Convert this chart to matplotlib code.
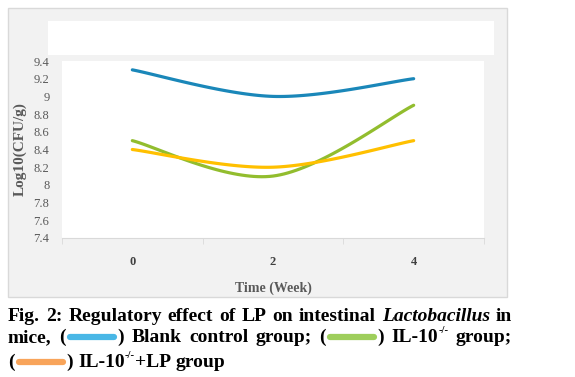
import matplotlib.pyplot as plt
import matplotlib.patches as mpatches
from matplotlib.lines import Line2D
import numpy as np

weeks = ["0", "2", "4"]
blank_control = [9.3, 9.0, 9.2]
il10_group = [8.5, 8.1, 8.9]
il10_lp_group = [8.4, 8.2, 8.5]
y_ticks = [7.4, 7.6, 7.8, 8, 8.2, 8.4, 8.6, 8.8, 9, 9.2, 9.4]

line_colors = ["#1a87b9", "#92bd2e", "#ffc000"]
swatch_colors = ["#29abe2", "#8dc63f", "#f7943d"]

W, H = 575, 377
plt.rcParams['font.family'] = ['Liberation Serif', 'DejaVu Serif']


def smooth(xs, ys, n=40):
    # Excel-like smoothed line (Catmull-Rom through the points)
    pts = np.column_stack([xs, ys]).astype(float)
    ext = np.vstack([pts[0], pts, pts[-1]])
    out = []
    t = np.linspace(0, 1, n)[:, None]
    for i in range(1, len(ext) - 2):
        p0, p1, p2, p3 = ext[i - 1], ext[i], ext[i + 1], ext[i + 2]
        c1 = p1 + (p2 - p0) / 6
        c2 = p2 - (p3 - p1) / 6
        seg = ((1 - t) ** 3) * p1 + 3 * ((1 - t) ** 2) * t * c1 + 3 * (1 - t) * t ** 2 * c2 + t ** 3 * p2
        out.append(seg)
    arr = np.vstack(out)
    return arr[:, 0], arr[:, 1]


def fx(px):
    return px / W


def fy(py):
    return 1 - py / H


fig = plt.figure(figsize=(W / 100, H / 100), dpi=100)

# chart frame
fig.patches.append(mpatches.Rectangle((fx(8), fy(297)), fx(499), 289 / H, transform=fig.transFigure,
                                      facecolor="#f2f2f2", edgecolor="#d9d9d9", lw=1, zorder=-3))
fig.patches.append(mpatches.Rectangle((fx(48), fy(55)), fx(446), 34 / H, transform=fig.transFigure,
                                      facecolor="white", edgecolor="none", zorder=-2))

ax = fig.add_axes([fx(62), fy(238), fx(422), 177 / H])
ax.set_facecolor("white")
xs = np.arange(len(weeks))
for vals, c in zip([blank_control, il10_group, il10_lp_group], line_colors):
    sx, sy = smooth(xs, vals)
    ax.plot(sx, sy, color=c, lw=2.3, solid_capstyle="round")

ax.set_xlim(-0.5, len(weeks) - 0.5)
ax.set_ylim(7.4, 9.4)
ax.set_yticks(y_ticks)
ax.set_yticklabels([f"{v:g}" for v in y_ticks], fontsize=9, color="#595959")
ax.set_xticks(xs)
ax.set_xticklabels(weeks, fontsize=9, fontweight="bold", color="#404040")
ax.set_xticks(np.arange(-0.5, len(weeks)), minor=True)
ax.tick_params(axis="x", which="major", length=0, pad=13)
ax.tick_params(axis="x", which="minor", length=4, color="#d9d9d9", direction="out")
ax.tick_params(axis="y", length=0, pad=9)
for s in ["top", "right", "left"]:
    ax.spines[s].set_visible(False)
ax.spines["bottom"].set_color("#d9d9d9")
ax.set_ylabel("Log10(CFU/g)", fontsize=11, fontweight="bold", color="#595959", labelpad=5)
fig.text(fx(273), fy(288), "Time (Week)", ha="center", va="center", fontsize=10,
         fontweight="bold", color="#595959")

# caption with justified lines and colored swatches
renderer = fig.canvas.get_renderer()
FS = 14


def measure(piece):
    kind = piece[0]
    if kind == "sw":
        return 52
    t = fig.text(0, 0, piece[1], fontsize=FS * (0.55 if kind == "sup" else 1), fontweight="bold",
                 fontstyle="italic" if kind == "it" else "normal")
    w = t.get_window_extent(renderer).width
    t.remove()
    return w


def draw_line(groups, ybase, justify, left=8, right=512):
    widths = [[measure(p) for p in g] for g in groups]
    totals = [sum(w) for w in widths]
    if justify:
        gap = (right - left - sum(totals)) / (len(groups) - 1)
    else:
        gap = 5
    x = left
    for g, ws in zip(groups, widths):
        for p, w in zip(g, ws):
            kind = p[0]
            if kind == "sw":
                fig.add_artist(Line2D([fx(x + 4), fx(x + w - 4)], [fy(ybase - 5)] * 2, transform=fig.transFigure,
                                      color=p[1], lw=4.5, solid_capstyle="round", alpha=0.85))
            elif kind == "sup":
                fig.text(fx(x), fy(ybase - 9), p[1], fontsize=FS * 0.55, fontweight="bold", va="baseline")
            else:
                fig.text(fx(x), fy(ybase), p[1], fontsize=FS, fontweight="bold", va="baseline",
                         fontstyle="italic" if kind == "it" else "normal")
            x += w
        x += gap


line1 = [[("t", w)] for w in ["Fig.", "2:", "Regulatory", "effect", "of", "LP", "on", "intestinal"]]
line1 += [[("it", "Lactobacillus")], [("t", "in")]]
line2 = [[("t", "mice,")], [("t", "("), ("sw", swatch_colors[0]), ("t", ")")],
         [("t", "Blank")], [("t", "control")], [("t", "group;")],
         [("t", "("), ("sw", swatch_colors[1]), ("t", ")")],
         [("t", "IL-10"), ("sup", "-/-")], [("t", "group;")]]
line3 = [[("t", "("), ("sw", swatch_colors[2]), ("t", ")")],
         [("t", "IL-10"), ("sup", "-/-"), ("t", "+LP")], [("t", "group")]]

draw_line(line1, 321, True)
draw_line(line2, 342, True)
draw_line(line3, 367, False)

plt.savefig("out.png", dpi=100)
